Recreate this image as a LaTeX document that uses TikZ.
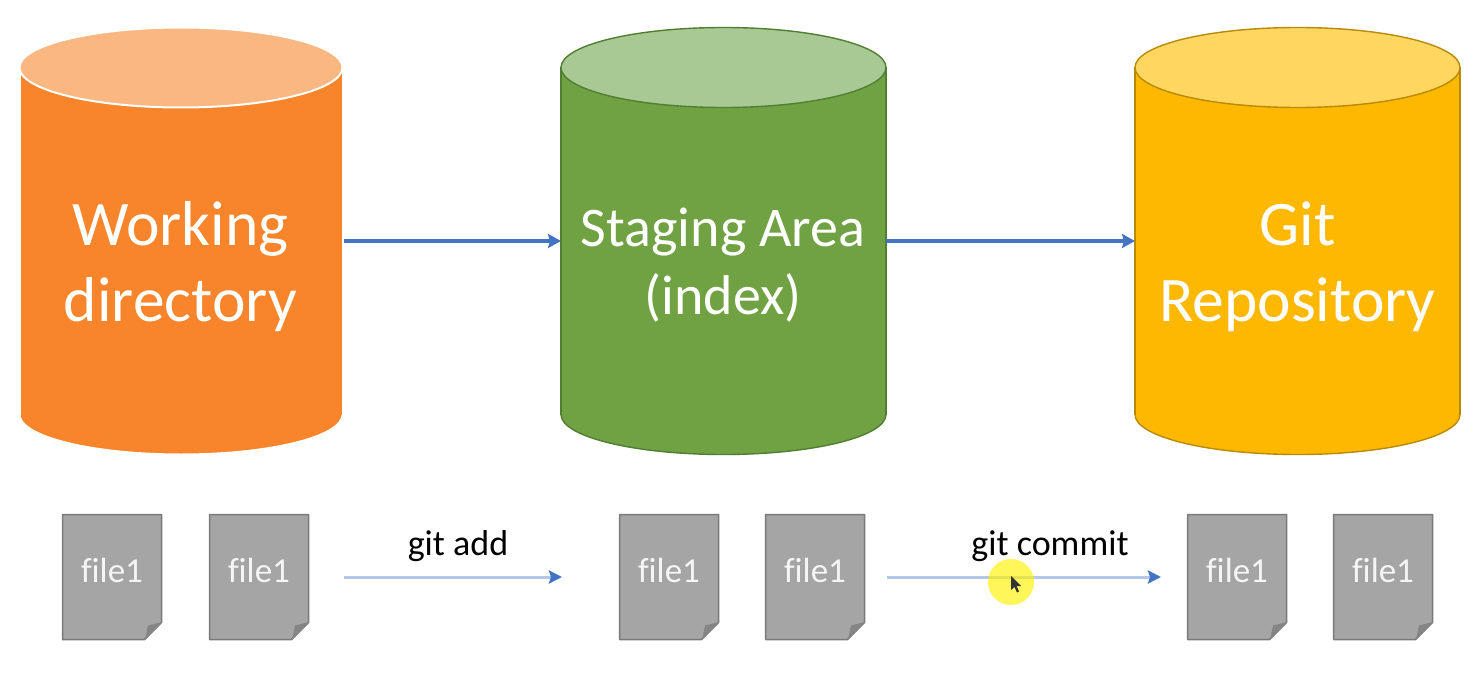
\documentclass[tikz,border=0pt]{standalone}
\usepackage{fontspec}
\setmainfont[Ligatures=NoCommon]{Carlito}
\usepackage{xcolor}
\usetikzlibrary{arrows.meta,positioning}
\definecolor{corange}{HTML}{F8842B}
\definecolor{corangetop}{HTML}{FBB782}
\definecolor{cgreen}{HTML}{70A244}
\definecolor{cgreentop}{HTML}{A9C994}
\definecolor{cgreenline}{HTML}{507E32}
\definecolor{camber}{HTML}{FFB800}
\definecolor{cambertop}{HTML}{FFD660}
\definecolor{camberline}{HTML}{B88A08}
\definecolor{cblue}{HTML}{4472C4}
\definecolor{cbluelight}{HTML}{B4C7E7}
\definecolor{filegrey}{HTML}{A5A5A5}
\definecolor{fileline}{HTML}{7A7A7A}
\definecolor{filefold}{HTML}{858585}
\definecolor{cursorspot}{HTML}{FFF200}
\tikzset{
  storebox/.style={minimum width=#1, minimum height=428pt, inner sep=0pt, outer sep=0pt},
  storetxt/.style={align=center, text=white, inner sep=0pt},
  docfile/.style={font=\fontsize{35}{40}\selectfont, text=white!96!black, inner sep=0pt},
  cmd/.style={font=\fontsize{36}{42}\selectfont, text=black, inner sep=0pt},
  bigarr/.style={-{Stealth[length=13pt,width=14pt,inset=2pt]}, line width=3.8pt, color=cblue},
  thinarr/.style={-{Stealth[length=13pt,width=13pt,inset=2pt,color=cblue]}, line width=3pt, color=cbluelight},
}
% drum; #1 name, #2 centre x, #3 half width, #4 body, #5 top, #6 line colour, #7 line width
\newcommand{\storedrum}[7]{
  \draw[fill=#4, draw=#6, line width=#7pt] (#2,414.5) ellipse [x radius=#3pt, y radius=40pt];
  \fill[#4] (#2-#3,67.5) rectangle (#2+#3,414.5);
  \draw[#6, line width=#7pt] (#2-#3,67.5) -- (#2-#3,414.5) (#2+#3,67.5) -- (#2+#3,414.5);
  \draw[fill=#5, draw=#6, line width=#7pt] (#2,67.5) ellipse [x radius=#3pt, y radius=40pt];
  \node[storebox=2*#3pt] (#1) at (#2,241) {};
}
% file page with a folded corner; #1 name, #2 left edge
\newcommand{\filepage}[2]{
  \fill[filegrey, draw=fileline, line width=1.5pt, line join=round]
    (#2+0.5,514.5) -- ++(99,0) -- ++(0,108) -- ++(-17,17) -- ++(-82,0) -- cycle;
  \fill[filefold] (#2+83,640) -- (#2+100,622) -- (#2+86,625.5) -- cycle;
  \node[docfile] (#1) at (#2+50,570) {file1};
}
\begin{document}
\begin{tikzpicture}[x=1pt,y=-1pt]
  \useasboundingbox (0,0) rectangle (1478,698);
  \fill[white] (0,0) rectangle (1478,698);

  % stores
  \storedrum{wd}{181}{161.5}{corange}{corangetop}{white}{2}
  \storedrum{sa}{723.5}{162.5}{cgreen}{cgreentop}{cgreenline}{1.4}
  \storedrum{gr}{1297.5}{162.5}{camber}{cambertop}{camberline}{1.4}
  \node[storetxt, font=\fontsize{63.5}{76}\selectfont] (wdtxt) at (180.5,267) {Working\\directory};
  \node[storetxt, font=\fontsize{56}{68}\selectfont] (satxt) at (723,265) {Staging Area\\(index)};
  \node[storetxt, font=\fontsize{63.5}{76}\selectfont] (grtxt) at (1297.5,267) {Git\\Repository};

  \draw[bigarr, shorten <=1.5pt] (wd.east) -- (sa.west);
  \draw[bigarr] (sa.east) -- (gr.west);

  % files
  \filepage{fa}{62}
  \filepage{fb}{209}
  \filepage{fc}{619}
  \filepage{fd}{765}
  \filepage{fe}{1187}
  \filepage{ff}{1333}

  % commands
  \coordinate (adda) at (344,577);
  \coordinate (addb) at (562,577);
  \coordinate (coma) at (887,577);
  \coordinate (comb) at (1161,577);
  \draw[thinarr] (adda) -- (addb);
  \draw[thinarr] (coma) -- (comb);
  \node[cmd] (add) at (458,546) {git add};
  \node[cmd] (commit) at (1050,546) {git commit};

  % pointer
  \fill[cursorspot, opacity=0.65] (1011,582) circle (23);
  \fill[black!80] (1011,576) -- (1011,590) -- (1014.5,587) -- (1017,592.5) -- (1019,591.5) -- (1016.5,586) -- (1021,586) -- cycle;
\end{tikzpicture}
\end{document}
